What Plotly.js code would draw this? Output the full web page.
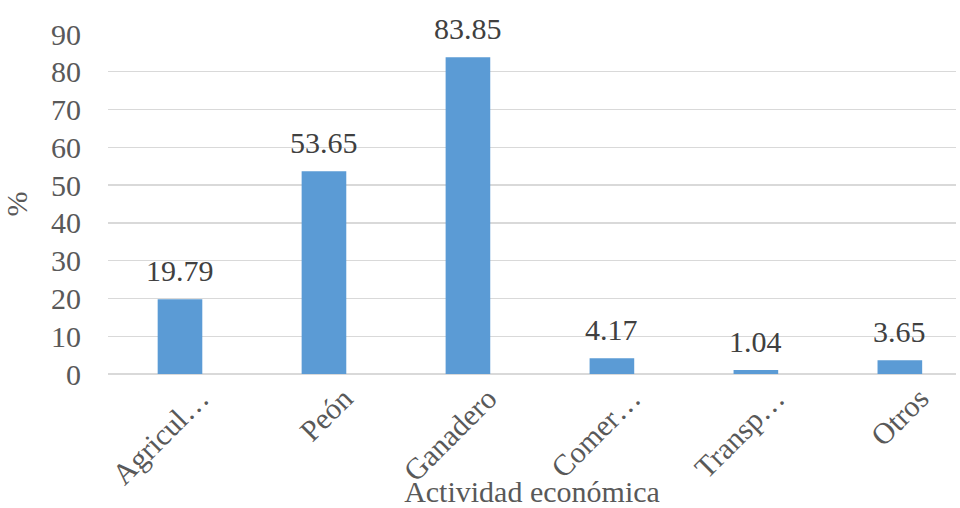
<!DOCTYPE html>
<html><head><meta charset="utf-8">
<script src="https://cdn.plot.ly/plotly-3.0.1.min.js"></script>
<style>html,body{margin:0;padding:0;background:#fff}#c{width:960px;height:508px}</style>
</head><body><div id="c"></div>
<script>
const categories = ["Agricul…", "Peón", "Ganadero", "Comer…", "Transp…", "Otros"];
const values = [19.79, 53.65, 83.85, 4.17, 1.04, 3.65];
const yTicks = [0, 10, 20, 30, 40, 50, 60, 70, 80, 90];

const FONT = "Liberation Serif";
const trace = {
  type: "bar", x: categories, y: values, width: 0.31,
  marker: {color: "#5B9BD5"}, hoverinfo: "none"
};
const annotations = categories.map((c, i) => ({
  x: c, y: values[i], xref: "x", yref: "y", text: values[i].toFixed(2),
  showarrow: false, yanchor: "bottom", yshift: 10,
  font: {family: FONT, size: 30, color: "#404040"}
}));
const layout = {
  width: 960, height: 508,
  margin: {l: 108, r: 4, t: 34, b: 134},
  paper_bgcolor: "#fff", plot_bgcolor: "#fff",
  showlegend: false,
  font: {family: FONT, color: "#595959"},
  xaxis: {
    type: "category", tickangle: -45, automargin: false, range: [-0.5, 5.39],
    tickfont: {family: FONT, size: 30, color: "#595959"},
    showgrid: false, zeroline: false, showline: false, ticks: "",
    ticklabelshift: 20,
    title: {text: "Actividad económica", font: {family: FONT, size: 30, color: "#595959"}, standoff: 0}
  },
  yaxis: {
    range: [0, 90], tickvals: yTicks, automargin: false,
    tickfont: {family: FONT, size: 30, color: "#595959"},
    showgrid: true, gridcolor: "#d9d9d9", gridwidth: 1.3,
    zeroline: true, zerolinecolor: "#d9d9d9", zerolinewidth: 1.3,
    showline: false, ticks: "", ticklabelstandoff: 26,
    title: {text: "%", font: {family: FONT, size: 30, color: "#595959"}, standoff: 20}
  },
  annotations: annotations
};
Plotly.newPlot("c", [trace], layout, {displayModeBar: false, staticPlot: true});
</script></body></html>
